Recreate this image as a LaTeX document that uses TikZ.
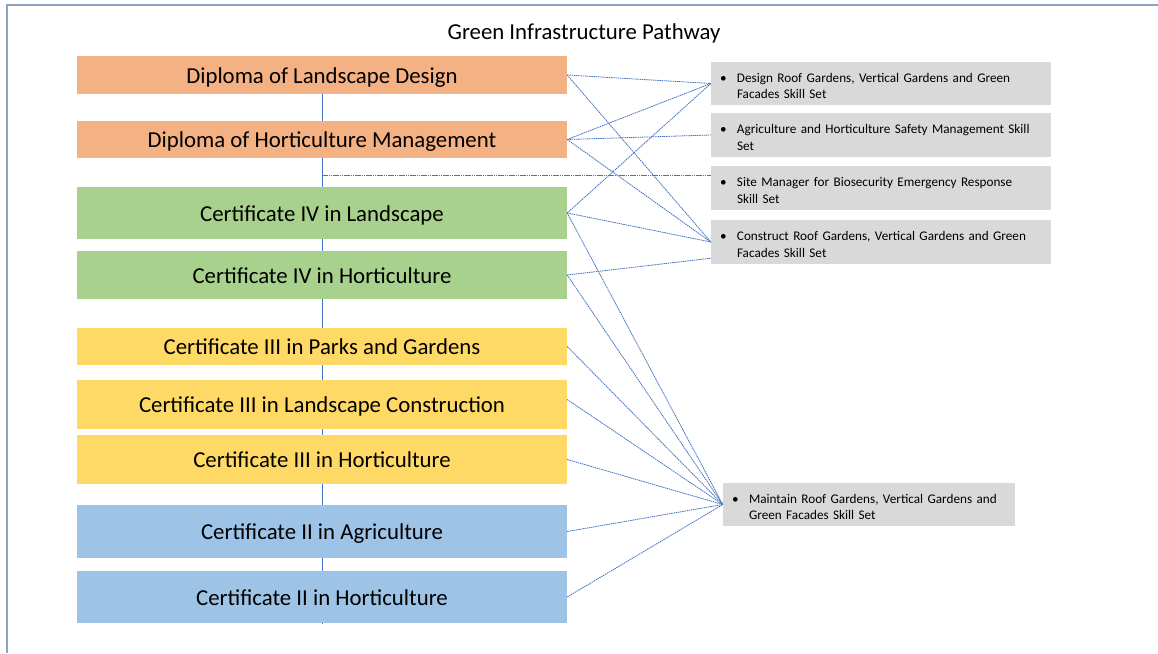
\documentclass[tikz,border=0pt]{standalone}
\usepackage{fontspec}
\setmainfont{Carlito}
\definecolor{orangebox}{HTML}{F4B183}
\definecolor{greenbox}{HTML}{A9D18E}
\definecolor{yellowbox}{HTML}{FFD966}
\definecolor{bluebox}{HTML}{9DC3E6}
\definecolor{skillgray}{HTML}{D9D9D9}
\definecolor{lineblue}{HTML}{4472C4}
\definecolor{framecol}{HTML}{8EA2C4}
\tikzset{
  qual/.style={minimum width=490pt, inner sep=0pt, text height=16pt, text depth=0pt, font=\fontsize{22.8}{27}\selectfont},
  skill/.style={fill=skillgray, minimum width=340pt, text width=322pt, inner xsep=9pt, inner ysep=0pt, align=left, font=\fontsize{13.2}{16.5}\selectfont},
  link/.style={lineblue, line width=0.8pt, dash pattern=on 1.5pt off 0.7pt},
  spine/.style={lineblue, line width=0.8pt},
}
\newcommand{\bul}{\rule{0pt}{14pt}\makebox[17pt][l]{\textbullet}}
\newcommand{\ind}{\hspace*{17pt}}
\begin{document}
\begin{tikzpicture}[x=1pt,y=-1pt]
\useasboundingbox (0,0) rectangle (1158,653);
\fill[white] (0,0) rectangle (1158,653);
\draw[framecol, line width=1.5pt] (7,653) -- (7,5) -- (1158,5);

\node[font=\fontsize{22.8}{27}\selectfont] (title) at (584,33) {Green Infrastructure Pathway};

% spine
\coordinate (spinetop) at (322,94);
\coordinate (spinebot) at (322,624);
\coordinate (branch) at (322,175.5);
\draw[spine] (spinetop) -- (spinebot);

% qualification boxes
\node[qual, fill=orangebox, minimum height=38pt] (dld) at (322,75) {Diploma of Landscape Design};
\node[qual, fill=orangebox, minimum height=37pt] (dhm) at (322,139.5) {Diploma of Horticulture Management};
\node[qual, fill=greenbox, minimum height=52pt] (c4l) at (322,213) {Certificate IV in Landscape};
\node[qual, fill=greenbox, minimum height=48pt] (c4h) at (322,275) {Certificate IV in Horticulture};
\node[qual, fill=yellowbox, minimum height=37pt] (c3p) at (322,346.5) {Certificate III in Parks and Gardens};
\node[qual, fill=yellowbox, minimum height=49pt] (c3lc) at (322,404.5) {Certificate III in Landscape Construction};
\node[qual, fill=yellowbox, minimum height=49pt] (c3h) at (322,459.5) {Certificate III in Horticulture};
\node[qual, fill=bluebox, minimum height=53pt] (c2a) at (322,531.5) {Certificate II in Agriculture};
\node[qual, fill=bluebox, minimum height=52pt] (c2h) at (322,597) {Certificate II in Horticulture};

% skill sets
\node[skill, minimum height=43pt] (design) at (881,83.5) {\bul Design Roof Gardens, Vertical Gardens and Green\\\ind Facades Skill Set};
\node[skill, minimum height=44pt] (agri) at (881,135) {\bul Agriculture and Horticulture Safety Management Skill\\\ind Set};
\node[skill, minimum height=44pt] (site) at (881,188) {\bul Site Manager for Biosecurity Emergency Response\\\ind Skill Set};
\node[skill, minimum height=44pt] (construct) at (881,242) {\bul Construct Roof Gardens, Vertical Gardens and Green\\\ind Facades Skill Set};
\node[skill, minimum height=43pt, minimum width=292pt, text width=274pt] (maintain) at (869,504.5) {\bul Maintain Roof Gardens, Vertical Gardens and\\\ind Green Facades Skill Set};

% connectors
\draw[link] (branch) -- (branch -| site.west);
\draw[link] (dld.east) -- (design.west);
\draw[link] (dld.east) -- (construct.west);
\draw[link] (dhm.east) -- (design.west);
\draw[link] (dhm.east) -- (agri.west);
\draw[link] (dhm.east) -- (construct.west);
\draw[link] (c4l.east) -- (design.west);
\draw[link] (c4l.east) -- (construct.west);
\draw[link] (c4l.east) -- (maintain.west);
\draw[link] (c4h.east) -- ([yshift=6pt]construct.south west);
\draw[link] (c4h.east) -- (maintain.west);
\draw[link] (c3p.east) -- (maintain.west);
\draw[link] ([yshift=5pt]c3lc.east) -- (maintain.west);
\draw[link] (c3h.east) -- (maintain.west);
\draw[link] (c2a.east) -- (maintain.west);
\draw[link] (c2h.east) -- (maintain.west);
\end{tikzpicture}
\end{document}
